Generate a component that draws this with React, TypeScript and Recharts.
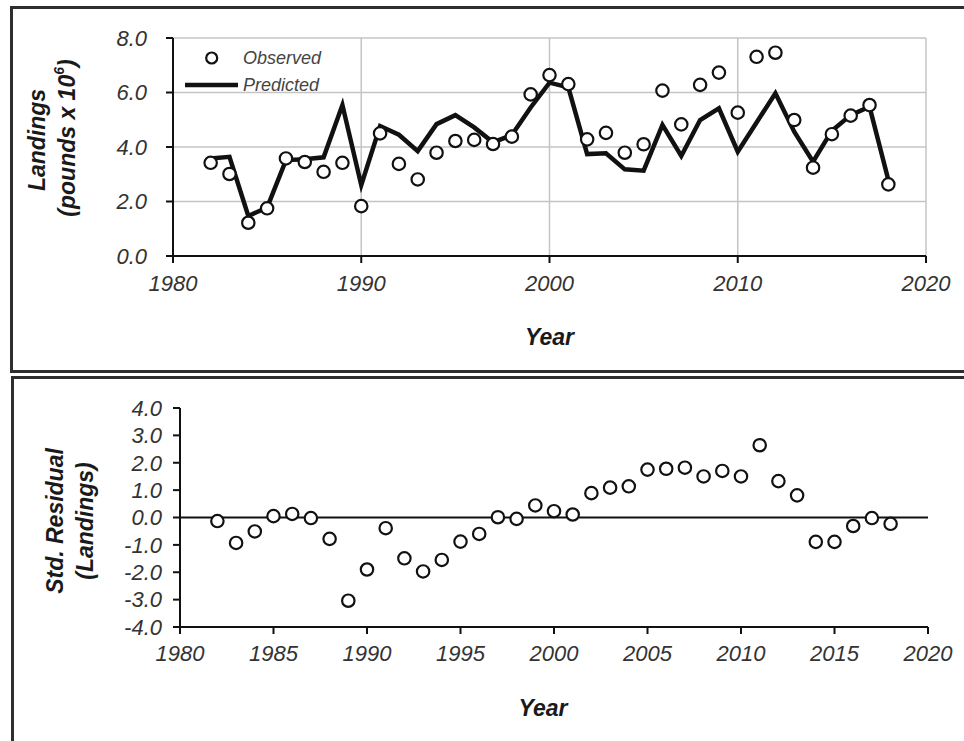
import {
  ComposedChart,
  Line,
  Scatter,
  XAxis,
  YAxis,
  CartesianGrid,
  ReferenceLine,
  Legend,
} from 'recharts'

const FONT = '"Liberation Sans", Arial, sans-serif'

const YEARS = [
  1982, 1983, 1984, 1985, 1986, 1987, 1988, 1989, 1990, 1991, 1992, 1993, 1994,
  1995, 1996, 1997, 1998, 1999, 2000, 2001, 2002, 2003, 2004, 2005, 2006, 2007,
  2008, 2009, 2010, 2011, 2012, 2013, 2014, 2015, 2016, 2017, 2018,
]

const OBSERVED = [
  3.42, 3.01, 1.22, 1.75, 3.58, 3.45, 3.09, 3.42, 1.83, 4.5, 3.38, 2.81, 3.79,
  4.22, 4.26, 4.11, 4.38, 5.93, 6.64, 6.31, 4.28, 4.52, 3.79, 4.1, 6.07, 4.83,
  6.28, 6.73, 5.26, 7.31, 7.46, 4.99, 3.24, 4.47, 5.15, 5.54, 2.63,
]

const PREDICTED = [
  3.58, 3.64, 1.47, 1.78, 3.52, 3.55, 3.62, 5.54, 2.6, 4.77, 4.45, 3.85, 4.84,
  5.17, 4.72, 4.17, 4.44, 5.45, 6.36, 6.19, 3.74, 3.77, 3.18, 3.13, 4.81, 3.67,
  4.99, 5.42, 3.83, 4.9, 5.97, 4.56, 3.46, 4.6, 5.17, 5.48, 2.79,
]

const RESIDUALS = [
  -0.13, -0.93, -0.51, 0.05, 0.13, -0.02, -0.78, -3.04, -1.9, -0.39, -1.49,
  -1.97, -1.55, -0.88, -0.6, 0.01, -0.05, 0.44, 0.23, 0.11, 0.89, 1.09, 1.14,
  1.75, 1.78, 1.82, 1.5, 1.7, 1.5, 2.64, 1.33, 0.81, -0.89, -0.89, -0.31, -0.02,
  -0.23,
]

const TOP_X_TICKS = [1980, 1990, 2000, 2010, 2020]
const TOP_Y_TICKS = [0, 2, 4, 6, 8]
const BOTTOM_X_TICKS = [1980, 1985, 1990, 1995, 2000, 2005, 2010, 2015, 2020]
const BOTTOM_Y_TICKS = [-4, -3, -2, -1, 0, 1, 2, 3, 4]

const landingsData = YEARS.map((year, i) => ({
  year,
  observed: OBSERVED[i],
  predicted: PREDICTED[i],
}))

const residualData = YEARS.map((year, i) => ({ year, residual: RESIDUALS[i] }))

const tickStyle = {
  fill: '#333',
  fontSize: 22,
  fontStyle: 'italic' as const,
  fontFamily: FONT,
}

const axisLine = { stroke: '#111', strokeWidth: 2 }

const OpenCircle = (props: any) => {
  const { cx, cy } = props
  if (cx == null || cy == null) return null
  return <circle cx={cx} cy={cy} r={6.2} fill="#fff" stroke="#111" strokeWidth={2.2} />
}

const titleStyle = {
  fontFamily: FONT,
  fontWeight: 700,
  fontStyle: 'italic' as const,
  fontSize: 23,
  fill: '#1a1a1a',
}

function LegendBox() {
  const row = { display: 'flex', alignItems: 'center', height: 24 }
  const text = {
    fontFamily: FONT,
    fontStyle: 'italic' as const,
    fontSize: 18,
    color: '#444',
    marginLeft: 3,
  }
  return (
    <div>
      <div style={row}>
        <svg width={57} height={24}>
          <circle cx={28.7} cy={12} r={5.5} fill="#fff" stroke="#111" strokeWidth={2.2} />
        </svg>
        <span style={text}>Observed</span>
      </div>
      <div style={{ ...row, marginTop: 3 }}>
        <svg width={57} height={24}>
          <line x1={2} y1={12} x2={55} y2={12} stroke="#111" strokeWidth={4.5} />
        </svg>
        <span style={text}>Predicted</span>
      </div>
    </div>
  )
}

function LandingsChart() {
  return (
    <ComposedChart
      width={964}
      height={372}
      data={landingsData}
      margin={{ top: 38, right: 38, bottom: 86, left: 103 }}
    >
      <CartesianGrid stroke="#c4c4c4" strokeWidth={1.5} />
      <XAxis
        dataKey="year"
        type="number"
        domain={[1980, 2020]}
        ticks={TOP_X_TICKS}
        interval={0}
        tick={tickStyle}
        tickSize={7}
        tickMargin={12}
        axisLine={axisLine}
        tickLine={axisLine}
        height={30}
        label={{
          content: (p: any) => (
            <text
              x={p.viewBox.x + p.viewBox.width / 2}
              y={337}
              textAnchor="middle"
              dominantBaseline="central"
              style={titleStyle}
            >
              Year
            </text>
          ),
        }}
      />
      <YAxis
        type="number"
        domain={[0, 8]}
        ticks={TOP_Y_TICKS}
        interval={0}
        tickFormatter={(v: number) => v.toFixed(1)}
        tick={tickStyle}
        tickSize={7}
        tickMargin={19}
        axisLine={axisLine}
        tickLine={axisLine}
        width={70}
        label={{
          content: () => (
            <g>
              <text
                transform="translate(37,140) rotate(-90)"
                textAnchor="middle"
                dominantBaseline="central"
                style={titleStyle}
              >
                Landings
              </text>
              <text
                transform="translate(67,138) rotate(-90)"
                textAnchor="middle"
                dominantBaseline="central"
                style={titleStyle}
              >
                (pounds x 10
                <tspan dy={-8} fontSize={14}>
                  6
                </tspan>
                <tspan dy={8}>)</tspan>
              </text>
            </g>
          ),
        }}
      />
      <Legend
        layout="vertical"
        align="center"
        verticalAlign="middle"
        wrapperStyle={{ left: 183, top: 46, width: 'auto' }}
        content={() => <LegendBox />}
      />
      <Line
        dataKey="predicted"
        stroke="#111"
        strokeWidth={4.5}
        dot={false}
        activeDot={false}
        isAnimationActive={false}
        strokeLinejoin="miter"
      />
      <Scatter dataKey="observed" shape={OpenCircle} isAnimationActive={false} />
    </ComposedChart>
  )
}

function ResidualChart() {
  return (
    <ComposedChart
      width={964}
      height={364}
      data={residualData}
      margin={{ top: 31, right: 36, bottom: 84, left: 110 }}
    >
      <XAxis
        dataKey="year"
        type="number"
        domain={[1980, 2020]}
        ticks={BOTTOM_X_TICKS}
        interval={0}
        tick={tickStyle}
        tickSize={7}
        tickMargin={11}
        axisLine={axisLine}
        tickLine={axisLine}
        height={30}
        label={{
          content: () => (
            <text
              x={543}
              y={331}
              textAnchor="middle"
              dominantBaseline="central"
              style={titleStyle}
            >
              Year
            </text>
          ),
        }}
      />
      <YAxis
        type="number"
        domain={[-4, 4]}
        ticks={BOTTOM_Y_TICKS}
        interval={0}
        tickFormatter={(v: number) => v.toFixed(1)}
        tick={tickStyle}
        tickSize={7}
        tickMargin={11}
        axisLine={axisLine}
        tickLine={axisLine}
        width={70}
        label={{
          content: () => (
            <g>
              <text
                transform="translate(55,144) rotate(-90)"
                textAnchor="middle"
                dominantBaseline="central"
                style={titleStyle}
              >
                Std. Residual
              </text>
              <text
                transform="translate(85,144) rotate(-90)"
                textAnchor="middle"
                dominantBaseline="central"
                style={titleStyle}
              >
                (Landings)
              </text>
            </g>
          ),
        }}
      />
      <ReferenceLine y={0} stroke="#111" strokeWidth={2} />
      <Scatter dataKey="residual" shape={OpenCircle} isAnimationActive={false} />
    </ComposedChart>
  )
}

export default function App() {
  const frame = {
    position: 'absolute' as const,
    boxSizing: 'border-box' as const,
    border: '3px solid #2e2e2e',
    width: 1000,
  }
  return (
    <div
      style={{
        position: 'absolute',
        left: 0,
        top: 0,
        width: 964,
        height: 741,
        overflow: 'hidden',
        background: '#fff',
      }}
    >
      <div style={{ ...frame, left: 10, top: 6, height: 367 }} />
      <div style={{ ...frame, left: 11, top: 376, height: 400 }} />
      <div style={{ position: 'absolute', left: 0, top: 0 }}>
        <LandingsChart />
      </div>
      <div style={{ position: 'absolute', left: 0, top: 377 }}>
        <ResidualChart />
      </div>
    </div>
  )
}
